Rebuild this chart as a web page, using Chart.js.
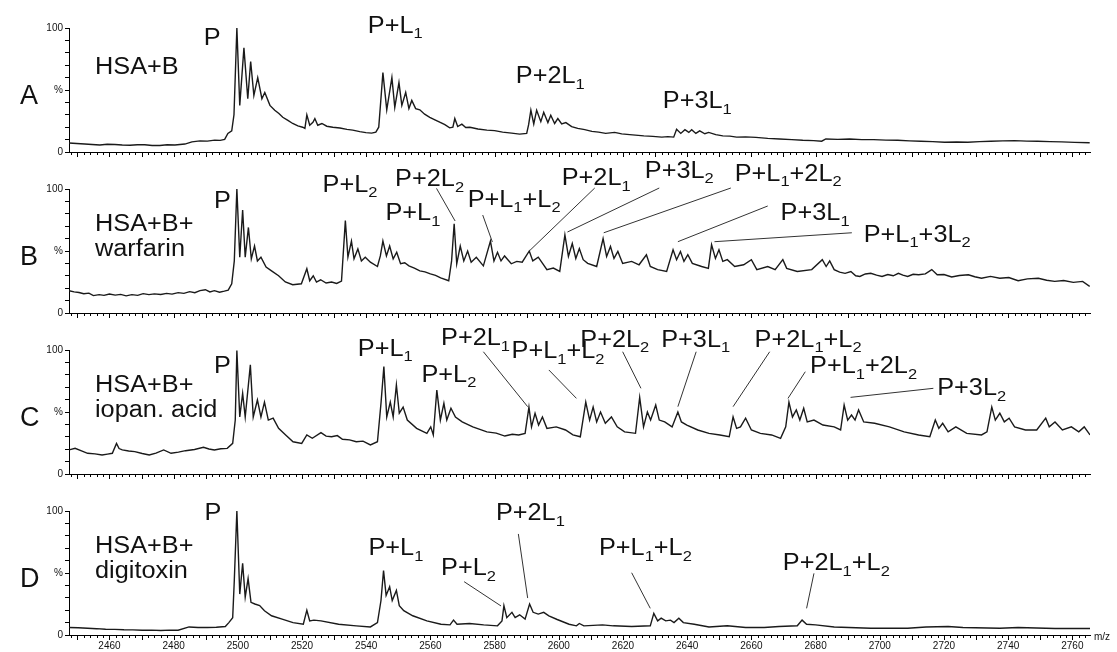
<!DOCTYPE html>
<html>
<head>
<meta charset="utf-8">
<script src="https://cdn.jsdelivr.net/npm/chart.js@4.4.0/dist/chart.umd.min.js"></script>
<style>
  html, body { margin: 0; padding: 0; background: #fff; }
  #wrap { position: relative; width: 1117px; height: 652px; }
  #wrap canvas { position: absolute; left: 0; }
</style>
</head>
<body>
<div id="wrap">
  <canvas id="specA" width="1117" height="161" style="top:0px"></canvas>
  <canvas id="specB" width="1117" height="161" style="top:161px"></canvas>
  <canvas id="specC" width="1117" height="161" style="top:322px"></canvas>
  <canvas id="specD" width="1117" height="169" style="top:483px"></canvas>
</div>
<script>
// m/z window shared by all four spectra
const MZ_MIN = 2447.4;
const MZ_MAX = 2765.5;

// [m/z, relative intensity %]
const specA = [
  [2447.4,7.2],[2449.8,6.8],[2452.3,6.5],[2454.6,6.1],[2457.0,5.6],[2459.3,6.2],[2461.7,6],[2464.0,5.6],
  [2466.4,5.4],[2468.7,5.9],[2471.0,5.8],[2473.3,5.3],[2475.7,5.2],[2478.0,5.8],[2480.4,5.6],[2483.5,6.4],
  [2485.7,8.2],[2488.2,9],[2490.5,8.8],[2492.8,9.6],[2494.5,9.4],[2495.9,10.2],[2496.9,15],[2498.1,17],[2498.8,30],
  [2499.7,100],[2500.6,37.6],[2501.9,84],[2503.1,43],[2504.0,73],[2505.0,45.6],[2506.2,60],[2507.5,43],
  [2508.4,48],[2510.0,37.6],[2511.5,33.6],[2512.8,31],[2514.0,28],[2515.6,25.5],[2517.1,23],[2518.7,21],
  [2520.2,20],[2520.9,19],[2521.5,30],[2522.4,21.6],[2523.4,24],[2524.0,27],[2524.9,21.6],[2526.2,23],
  [2527.7,20.8],[2529.6,20],[2531.8,19.4],[2534.0,18.2],[2535.8,17.6],[2538.0,16.4],[2539.9,15.6],[2541.7,15.2],
  [2543.0,16],[2543.9,20],[2544.5,40],[2545.2,64],[2546.4,34],[2548.0,60],[2548.9,36],[2550.2,56],
  [2551.1,37.6],[2552.3,48],[2553.3,35],[2554.2,41.6],[2555.4,35],[2556.7,34],[2558.2,30.5],[2559.8,28],
  [2561.4,26],[2562.9,24],[2564.5,22],[2566.0,19.5],[2567.0,20],[2567.6,27],[2568.5,20.5],[2569.8,22.5],
  [2571.0,19.8],[2572.3,20],[2574.8,18.6],[2577.6,17.6],[2580.0,17.2],[2582.5,16],[2585.3,15.2],[2587.8,14.4],
  [2590.0,15],[2590.6,22],[2591.3,33.7],[2592.2,22.6],[2593.1,33.7],[2594.4,24.5],[2595.3,32],[2596.6,23.7],
  [2597.5,29.7],[2598.7,23],[2599.7,27],[2600.9,22.6],[2602.2,23.7],[2604.0,20.5],[2605.9,19],[2608.1,18],
  [2610.3,16.6],[2612.4,16],[2614.6,15],[2617.4,15.8],[2619.6,14.6],[2622.1,14],[2626.5,13],[2629.3,12.6],
  [2632.1,12],[2634.0,12.4],[2635.8,12],[2636.7,18.4],[2638.0,15],[2639.3,18],[2640.5,15.8],[2641.4,18],
  [2642.7,15],[2643.9,17],[2645.5,14.7],[2646.7,15.8],[2648.9,14],[2651.1,13],[2653.3,12.8],[2655.4,12],
  [2658.2,12.2],[2661.4,11.8],[2665.1,11],[2668.8,10.5],[2672.6,10],[2676.0,9.5],[2679.4,9.2],[2681.9,8.7],
  [2683.2,10.5],[2686.9,10.2],[2690.6,10.5],[2694.4,10],[2698.1,10],[2701.9,9.6],[2705.6,9.5],[2709.3,9],
  [2712.8,8.7],[2716.5,8.4],[2720.2,7.9],[2724.0,8.1],[2727.4,7.9],[2731.1,8.4],[2734.6,8.7],[2738.3,9],
  [2742.0,9.2],[2745.8,8.8],[2749.2,8.7],[2753.0,8.4],[2756.7,8.2],[2760.7,7.8],[2765.4,7.4]
];

const specB = [
  [2447.4,18],[2449.0,17],[2450.5,16.5],[2452.0,15.5],[2453.6,16],[2455.0,14],[2456.8,14.8],[2458.3,14.2],
  [2460.0,15.3],[2461.8,14.4],[2463.5,15],[2465.2,13.8],[2467.0,14.8],[2468.8,14.2],[2470.5,15.6],[2472.3,14.8],
  [2474.0,15.4],[2476.0,14.9],[2477.8,15.8],[2479.5,15.2],[2481.4,16.4],[2483.2,15.8],[2485.0,17.2],[2486.6,16.4],
  [2488.2,18],[2489.9,18.8],[2491.3,17],[2492.7,18],[2494.3,16.8],[2495.8,17.6],[2497.0,18.5],[2498.1,23.6],
  [2498.9,42],[2499.7,100],[2500.6,45],[2501.5,83],[2502.3,45],[2503.3,69],[2504.2,43.7],[2505.2,54],
  [2506.1,42],[2507.2,45],[2508.8,37],[2510.5,34],[2512.7,30],[2514.8,25],[2517.1,22.8],[2519.8,23.6],
  [2521.5,35.7],[2522.4,26],[2523.5,30],[2524.5,25],[2525.8,26.8],[2527.5,24.2],[2529.2,25],[2530.8,23.8],
  [2532.3,25.7],[2533.5,74.5],[2534.3,45],[2535.4,58],[2536.2,43.7],[2537.4,51.7],[2538.5,42],[2539.7,45],
  [2541.3,41],[2543.5,37.5],[2544.4,46],[2545.2,58],[2546.3,46],[2547.3,54],[2548.4,43.7],[2549.5,49],
  [2550.7,39.7],[2552.0,40.5],[2553.3,38],[2555.0,36.2],[2556.7,34],[2558.3,33.2],[2560.0,31.6],[2561.6,30.4],
  [2563.2,28.4],[2565.7,26],[2566.6,42],[2567.4,72],[2568.2,39.7],[2569.3,54],[2570.4,42],[2571.6,50],
  [2572.7,41],[2574.3,45],[2576.5,38],[2578.7,58],[2579.8,42],[2580.9,49],[2582.0,42],[2583.1,46],
  [2585.2,39.7],[2586.9,41.6],[2588.6,41],[2590.8,50],[2591.9,42],[2593.6,45],[2596.3,35],[2598.3,36.2],
  [2600.3,33.5],[2601.9,63],[2603.0,45.6],[2604.2,56],[2605.3,44],[2606.4,52],[2607.6,43],[2609.0,40],
  [2611.8,37.5],[2613.8,60],[2614.9,45.6],[2616.1,53.6],[2617.2,44],[2618.4,49.6],[2619.9,40],[2622.7,41.6],
  [2625.0,38.9],[2627.3,47],[2628.5,37.5],[2630.8,35],[2633.6,33.5],[2635.6,51],[2636.7,43],[2637.9,49.6],
  [2639.0,41.6],[2640.2,47],[2641.6,40],[2644.5,37.5],[2646.6,36],[2647.6,55],[2648.8,44],[2649.9,51],
  [2651.1,41.6],[2652.5,43],[2654.8,37.5],[2657.6,38.9],[2660.0,43],[2661.7,35],[2665.1,37.5],[2667.4,35],
  [2669.8,43],[2671.0,36],[2674.3,33.5],[2678.8,35],[2682.1,43],[2683.3,37.5],[2684.4,42],[2685.8,35],
  [2687.5,33],[2689.2,32],[2691.0,33.5],[2692.5,30],[2693.8,29.5],[2695.5,31.5],[2697.2,32],[2699.0,30.5],
  [2700.7,29.5],[2702.5,31],[2704.2,30],[2705.8,32],[2707.2,30.5],[2708.7,29.5],[2710.4,31.2],[2712.1,30.8],
  [2714.2,31.5],[2716.2,35],[2717.9,30.8],[2720.0,31],[2722.4,29],[2724.8,30.2],[2727.6,30.8],[2729.6,29.2],
  [2731.7,28],[2734.5,29.5],[2737.4,28],[2740.2,28.6],[2743.1,26],[2746.0,27.5],[2749.4,28],[2752.0,26.4],
  [2754.5,25.5],[2757.3,26.2],[2760.3,24.7],[2763.2,25.5],[2765.4,21.4]
];

const specC = [
  [2447.4,19.4],[2449.3,20.7],[2451.3,18.6],[2453.2,16.7],[2455.5,16.2],[2457.7,15.3],[2459.4,16],[2460.9,16.7],
  [2462.2,24.7],[2463.0,20.5],[2464.0,19.4],[2466.0,18.6],[2467.9,18],[2470.2,16.5],[2472.4,15.3],[2474.5,16.8],
  [2476.9,19.4],[2479.2,16.7],[2481.5,17.6],[2483.7,18.8],[2486.5,19.8],[2489.3,21.5],[2491.0,20.2],[2492.7,19.4],
  [2494.7,20.4],[2496.7,20.7],[2498.4,24.7],[2499.2,43.5],[2499.7,99.5],[2500.6,46],[2501.5,65],[2502.3,46],
  [2503.9,88],[2504.8,46],[2506.1,59.7],[2507.2,46],[2508.3,58],[2509.5,43.5],[2511.0,45],[2512.7,36.8],
  [2514.9,31.5],[2517.2,26],[2519.9,24.7],[2521.5,31.5],[2523.2,28.8],[2525.9,33.3],[2527.5,30.5],[2529.2,30],
  [2531.0,31],[2532.6,28],[2534.8,27.5],[2536.9,26],[2539.0,26.5],[2541.3,23.4],[2543.5,26],[2544.6,57],
  [2545.5,86.6],[2546.4,46],[2547.5,58],[2548.4,46],[2549.4,71.8],[2550.3,49],[2551.5,54],[2552.8,43.5],
  [2555.7,36.8],[2558.9,32.8],[2560.1,38],[2560.9,31.5],[2562.0,67.7],[2563.1,43.5],[2564.2,57],[2565.1,43.5],
  [2566.4,53],[2567.8,46],[2569.9,42],[2573.2,38],[2577.6,34],[2580.5,33],[2583.2,30.6],[2585.5,32],
  [2587.5,31.5],[2589.5,32.8],[2590.7,54],[2591.5,38],[2592.6,49],[2593.7,39.5],[2594.9,46],[2596.3,36.8],
  [2599.2,38],[2602.1,35.5],[2604.4,31.5],[2606.7,30],[2608.4,58],[2609.6,43.5],[2610.7,54],[2611.8,42],
  [2613.0,50],[2614.5,40.9],[2616.4,46],[2618.2,38],[2620.5,34],[2623.9,32.8],[2625.2,61.8],[2626.4,38],
  [2627.6,50],[2628.6,43.5],[2630.2,55.6],[2631.3,43.5],[2633.0,42],[2635.3,38],[2637.1,50],[2638.2,42],
  [2639.9,39.5],[2643.3,35.5],[2646.8,32.8],[2650.2,31.5],[2653.1,30],[2654.3,46],[2655.4,36.8],[2656.6,38],
  [2658.2,45],[2660.0,35.5],[2662.8,32.8],[2666.3,31.5],[2669.1,28.8],[2670.7,38],[2671.7,58],[2672.8,46],
  [2674.0,51.6],[2675.1,43.5],[2676.3,53],[2677.4,42],[2679.5,43.5],[2682.3,39.5],[2685.8,38],[2687.8,35.5],
  [2688.9,55.6],[2690.0,43.5],[2691.2,47.6],[2692.3,43.5],[2693.4,51.6],[2695.0,42],[2698.4,40.9],[2703.0,38],
  [2707.6,34],[2712.1,31.5],[2715.6,30],[2717.3,43.5],[2718.4,36.8],[2719.6,40.9],[2721.3,34],[2723.7,38],
  [2727.1,32.8],[2731.7,31.5],[2733.4,34],[2734.9,54],[2736.0,43.5],[2737.4,49],[2738.8,42],[2740.3,45],
  [2742.0,38],[2745.4,35.5],[2748.9,35.5],[2751.7,45],[2752.8,38],[2754.6,42],[2756.9,35.5],[2759.7,38],
  [2762.0,34],[2763.7,38],[2765.5,31.5]
];

const specD = [
  [2447.4,6],[2450.3,5.8],[2453.2,5.4],[2456.0,5.1],[2458.8,4.6],[2461.7,4.5],[2464.5,4.2],[2467.3,4.1],
  [2470.2,3.8],[2473.1,3.9],[2476.0,3.6],[2478.7,3.9],[2481.4,3.8],[2484.8,6.5],[2487.6,6.1],
  [2490.5,6],[2493.3,6.3],[2496.1,6.8],[2497.2,10],[2498.4,14],[2498.9,44],[2499.7,100],[2500.6,33],[2501.5,57.8],
  [2502.3,30.5],[2503.2,45.5],[2504.1,26.4],[2505.3,25],[2506.8,23.7],[2508.3,19.6],[2510.5,15.5],[2513.8,12.8],
  [2517.2,10],[2520.4,8.7],[2521.5,20],[2522.4,11.4],[2523.7,12],[2525.9,11.4],[2531.4,8.7],[2536.9,7.4],
  [2541.3,6.5],[2543.5,10],[2544.6,27.8],[2545.4,52],[2546.2,31.9],[2547.3,39],[2548.1,27.8],[2549.4,36],
  [2550.3,23.7],[2551.7,19.6],[2554.5,15.5],[2558.9,11.4],[2563.3,8.7],[2566.1,8.2],[2567.2,12],[2568.3,8.7],
  [2572.2,9.3],[2576.6,8.2],[2580.9,7.4],[2582.3,11.4],[2582.9,23.7],[2583.8,14],[2585.4,18.3],[2586.4,14],
  [2587.8,16.3],[2589.5,12.8],[2590.9,25],[2592.0,18.3],[2593.6,16.9],[2595.3,18.3],[2596.9,15.5],[2599.5,12.5],
  [2603.2,8.7],[2605.5,7.4],[2606.4,9.3],[2607.8,7.4],[2613.6,8.2],[2617.0,7.4],[2622.7,6.8],[2628.5,7.4],
  [2629.6,17.4],[2630.8,11.4],[2631.9,13.6],[2633.3,11.4],[2634.8,12],[2635.9,10],[2637.4,13.6],[2638.8,10],
  [2642.2,8.7],[2646.8,6.5],[2652.5,7.4],[2658.2,6],[2664.0,6],[2668.6,6.8],[2674.3,7.4],[2675.8,12],
  [2677.2,8.7],[2680.0,8.2],[2685.8,6.5],[2697.2,5.4],[2708.7,5.4],[2714.4,6.5],[2721.3,6.8],[2725.9,6],
  [2737.4,5.4],[2743.1,6],[2754.6,5.2],[2765.5,5.2]
];

// y axis shows only these three captions
const yTickText = { 0: '0', 50: '%', 100: '100' };
const xLabelStep = 20;

const panelLetters = ['A', 'B', 'C', 'D'];
const sampleNames = [['HSA+B'], ['HSA+B+', 'warfarin'], ['HSA+B+', 'iopan. acid'], ['HSA+B+', 'digitoxin']];

// peak tags: text (_n = subscript), anchor [m/z, %], optional leader [from, to]
const tagsA = [
  { t: 'P', at: [2489.4, 86.3] },
  { t: 'P+L_1', at: [2540.5, 96] },
  { t: 'P+2L_1', at: [2586.6, 55.6] },
  { t: 'P+3L_1', at: [2632.4, 35.5] }
];
const tagsB = [
  { t: 'P', at: [2492.6, 84.7] },
  { t: 'P+L_2', at: [2526.4, 97.6] },
  { t: 'P+2L_2', at: [2549.0, 102.4], ln: [[2561.9, 100.5], [2567.7, 74.2]] },
  { t: 'P+L_1', at: [2546.0, 75] },
  { t: 'P+L_1+L_2', at: [2571.6, 85.7], ln: [[2576.3, 79], [2579.3, 57.3]] },
  { t: 'P+2L_1', at: [2600.9, 103.2], ln: [[2611.2, 100.8], [2590.8, 50]] },
  { t: 'P+3L_2', at: [2626.8, 108.9], ln: [[2631.3, 100.8], [2602.7, 65.3]] },
  { t: 'P+L_1+2L_2', at: [2654.8, 106.7], ln: [[2653.6, 100.8], [2614.0, 64.7]] },
  { t: 'P+3L_1', at: [2669.1, 75], ln: [[2665.1, 86.3], [2637.1, 57.5]] },
  { t: 'P+L_1+3L_2', at: [2695.0, 57.5], ln: [[2691.3, 64.7], [2648.5, 57.5]] }
];
const tagsC = [
  { t: 'P', at: [2492.6, 81.2] },
  { t: 'P+L_1', at: [2537.4, 95.2] },
  { t: 'P+L_2', at: [2557.2, 74.4] },
  { t: 'P+2L_1', at: [2563.3, 104], ln: [[2576.5, 98.6], [2590.3, 54.3]] },
  { t: 'P+L_1+L_2', at: [2585.3, 93.3], ln: [[2596.9, 83.9], [2605.5, 61]] },
  { t: 'P+2L_2', at: [2606.7, 102.7], ln: [[2619.9, 98.6], [2625.6, 69.1]] },
  { t: 'P+3L_1', at: [2631.9, 102.7], ln: [[2642.8, 98.6], [2637.1, 54.3]] },
  { t: 'P+2L_1+L_2', at: [2661.0, 102.7], ln: [[2665.7, 98.6], [2654.3, 54.3]] },
  { t: 'P+L_1+2L_2', at: [2678.3, 81.2], ln: [[2676.8, 82.5], [2671.4, 61]] },
  { t: 'P+3L_2', at: [2717.9, 63.7], ln: [[2716.7, 69.1], [2690.9, 61.8]] }
];
const tagsD = [
  { t: 'P', at: [2489.6, 92.7] },
  { t: 'P+L_1', at: [2540.7, 64.5] },
  { t: 'P+L_2', at: [2563.3, 48.4], ln: [[2570.5, 43], [2582.0, 23.4]] },
  { t: 'P+2L_1', at: [2580.4, 92.7], ln: [[2587.4, 81.5], [2590.3, 29.8]] },
  { t: 'P+L_1+L_2', at: [2612.5, 64.5], ln: [[2622.7, 50.2], [2628.5, 21.5]] },
  { t: 'P+2L_1+L_2', at: [2669.8, 52.4], ln: [[2679.5, 49.7], [2677.2, 21.5]] }
];

const FONT = '"Liberation Sans", Arial, Helvetica, sans-serif';
const INK = '#111';

// text with digits after "_" set as subscripts, slightly widened like the print face
function drawTag(ctx, text, x, y, size) {
  const parts = text.split(/_(\d)/);
  ctx.save();
  ctx.translate(x, y);
  ctx.scale(1.1, 1);
  ctx.fillStyle = INK;
  ctx.textBaseline = 'alphabetic';
  ctx.textAlign = 'left';
  let cx = 0;
  parts.forEach((p, i) => {
    if (!p) return;
    const sub = i % 2 === 1;
    ctx.font = (sub ? Math.round(size * 0.65) : size) + 'px ' + FONT;
    ctx.fillText(p, cx, sub ? size * 0.24 : 0);
    cx += ctx.measureText(p).width;
  });
  ctx.restore();
}

function decor(idx, tags, bottom) {
  return {
    id: 'decor' + idx,
    afterDraw(chart) {
      const { ctx } = chart;
      const xs = chart.scales.x, ys = chart.scales.y;
      ctx.save();

      // m/z tick marks, longer every 10
      ctx.strokeStyle = '#000';
      ctx.lineWidth = 1;
      ctx.beginPath();
      xs.ticks.forEach(tk => {
        const px = Math.round(xs.getPixelForValue(tk.value)) + 0.5;
        const len = tk.value % 10 === 0 ? 5 : 3;
        ctx.moveTo(px, xs.top);
        ctx.lineTo(px, xs.top + len);
      });
      ctx.stroke();

      // panel letter and sample name
      ctx.fillStyle = INK;
      ctx.font = '27px ' + FONT;
      ctx.textBaseline = 'alphabetic';
      ctx.fillText(panelLetters[idx], 20, ys.getPixelForValue(39));
      const names = sampleNames[idx];
      const nameY = names.length === 1 ? [63] : [66, 46];
      names.forEach((s, k) => drawTag(ctx, s, xs.getPixelForValue(2455.5), ys.getPixelForValue(nameY[k]), 23));

      // leader lines then tags
      ctx.strokeStyle = '#333';
      ctx.lineWidth = 1;
      tags.forEach(tg => {
        if (!tg.ln) return;
        ctx.beginPath();
        ctx.moveTo(xs.getPixelForValue(tg.ln[0][0]), ys.getPixelForValue(tg.ln[0][1]));
        ctx.lineTo(xs.getPixelForValue(tg.ln[1][0]), ys.getPixelForValue(tg.ln[1][1]));
        ctx.stroke();
      });
      tags.forEach(tg => drawTag(ctx, tg.t, xs.getPixelForValue(tg.at[0]), ys.getPixelForValue(tg.at[1]), 23));

      if (bottom) {
        ctx.font = '10px ' + FONT;
        ctx.textBaseline = 'middle';
        ctx.fillStyle = INK;
        ctx.fillText('m/z', xs.right + 4, xs.top + 2);
      }
      ctx.restore();
    }
  };
}

function makePanel(id, idx, spec, tags, bottom) {
  return new Chart(document.getElementById(id), {
    type: 'line',
    data: {
      datasets: [{
        data: spec.map(p => ({ x: p[0], y: p[1] })),
        borderColor: '#1a1a1a',
        borderWidth: 1.4,
        pointRadius: 0,
        tension: 0,
        fill: false
      }]
    },
    options: {
      responsive: false,
      animation: false,
      events: [],
      layout: { padding: { left: 0, right: 27, top: 28, bottom: 0 } },
      plugins: { legend: { display: false }, tooltip: { enabled: false } },
      scales: {
        x: {
          type: 'linear',
          min: MZ_MIN,
          max: MZ_MAX,
          afterFit: s => { s.height = bottom ? 17 : 9; },
          grid: { display: false, drawTicks: false },
          border: { display: true, color: '#000', width: 1 },
          ticks: {
            stepSize: 2,
            includeBounds: false,
            autoSkip: false,
            maxRotation: 0,
            padding: 5,
            color: INK,
            font: { size: 10, family: FONT },
            callback: v => (bottom && v % xLabelStep === 0) ? String(v) : ''
          }
        },
        y: {
          min: 0,
          max: 100,
          afterFit: s => { s.width = 69; },
          grid: { drawOnChartArea: false, drawTicks: true, tickLength: 4, color: '#000' },
          border: { display: true, color: '#000', width: 1 },
          ticks: {
            stepSize: 10,
            autoSkip: false,
            padding: 2,
            color: INK,
            font: { size: 10, family: FONT },
            callback: v => yTickText[v] !== undefined ? yTickText[v] : ''
          }
        }
      }
    },
    plugins: [decor(idx, tags, bottom)]
  });
}

makePanel('specA', 0, specA, tagsA, false);
makePanel('specB', 1, specB, tagsB, false);
makePanel('specC', 2, specC, tagsC, false);
makePanel('specD', 3, specD, tagsD, true);
</script>
</body>
</html>
